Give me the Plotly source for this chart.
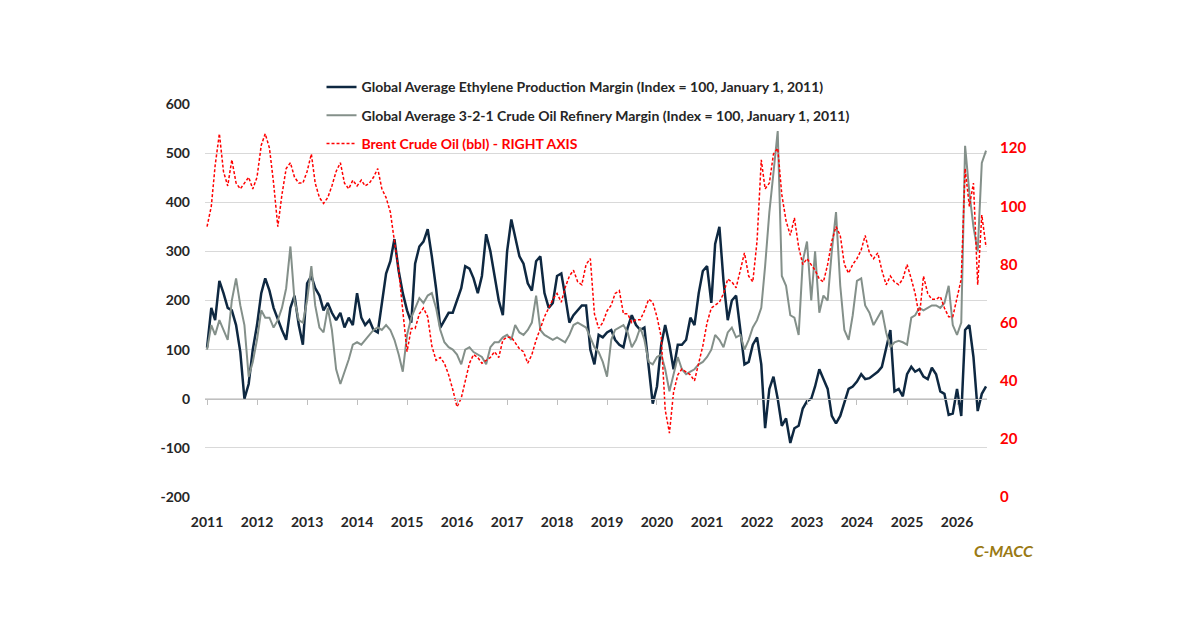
import pandas as pd
import plotly.graph_objects as go

# monthly points, Jan 2011 .. Aug 2026
dates = pd.date_range("2011-01-01", "2026-08-01", freq="MS")

ethylene = [
    104, 185, 160, 240, 215, 185, 180, 150, 95, 0, 30, 100,
    150, 215, 245, 220, 185, 160, 140, 120, 185, 210, 150, 110,
    235, 250, 225, 210, 180, 195, 175, 160, 175, 145, 165, 150,
    215, 165, 150, 160, 140, 135, 195, 255, 280, 325, 260, 215,
    180, 155, 275, 310, 320, 345, 290, 225, 145, 160, 175, 175,
    200, 225, 270, 265, 245, 215, 250, 335, 300, 250, 200, 170,
    300, 365, 330, 290, 275, 235, 220, 280, 290, 215, 185, 195,
    250, 255, 210, 155, 170, 180, 190, 190, 100, 70, 130, 125,
    135, 140, 120, 110, 105, 145, 170, 150, 140, 145, 60, -10,
    25, 110, 150, 110, 60, 110, 110, 120, 165, 150, 215, 260,
    270, 195, 315, 350, 240, 160, 200, 210, 140, 70, 75, 110,
    125, 70, -60, 20, 45, 0, -55, -40, -90, -60, -55, -20,
    -5, 0, 25, 60, 40, 20, -35, -50, -35, -10, 20, 25,
    35, 50, 40, 42, 48, 55, 65, 100, 140, 15, 20, 5,
    50, 65, 55, 60, 45, 40, 63, 50, 15, 10, -33, -30,
    20, -35, 140, 150, 85, -25, 10, 25,
]

refinery = [
    100, 150, 130, 160, 140, 120, 200, 245, 190, 150, 45, 75,
    120, 180, 165, 165, 145, 160, 185, 225, 310, 200, 160, 155,
    200, 270, 190, 145, 135, 185, 140, 60, 30, 55, 80, 110,
    115, 110, 120, 130, 140, 145, 140, 150, 140, 120, 90, 55,
    130, 165, 185, 205, 195, 210, 215, 185, 140, 115, 105, 100,
    90, 70, 100, 105, 95, 90, 85, 70, 105, 115, 115, 125,
    130, 120, 150, 135, 130, 140, 155, 210, 140, 130, 125, 120,
    125, 120, 115, 130, 150, 155, 150, 145, 125, 105, 95, 75,
    45, 120, 140, 145, 150, 135, 105, 120, 145, 120, 75, 70,
    85, 90, 60, 15, 50, 85, 60, 50, 55, 60, 70, 75,
    85, 100, 130, 120, 105, 135, 145, 125, 130, 100, 120, 145,
    160, 185, 270, 380, 460, 545, 250, 230, 170, 165, 130, 280,
    320, 200, 300, 175, 210, 200, 300, 380, 230, 140, 120, 170,
    240, 245, 190, 175, 150, 165, 180, 135, 105, 115, 118, 115,
    110, 165, 170, 185, 180, 185, 190, 190, 185, 195, 230, 150,
    130, 155, 515, 420, 350, 300, 480, 505,
]

brent = [
    93, 100, 114, 125, 112, 107, 116, 108, 106, 108, 110, 106,
    110, 121, 125, 120, 108, 93, 104, 113, 115, 110, 108, 108,
    112, 118, 108, 103, 101, 103, 107, 112, 115, 108, 106, 109,
    107, 109, 107, 108, 110, 113, 106, 103, 98, 88, 78, 64,
    50, 58, 58, 63, 65, 62, 52, 47, 48, 46, 42, 37,
    31, 34, 40, 46, 49, 48, 46, 47, 48, 50, 48, 54,
    55, 55, 53, 51, 50, 46, 49, 54, 58, 62, 65, 68,
    70, 67, 72, 76, 78, 74, 73, 80, 82, 63, 58, 60,
    64, 66, 70, 71, 63, 63, 60, 61, 61, 64, 68, 67,
    62, 55, 30, 22, 36, 42, 44, 43, 42, 40, 46, 52,
    60, 65, 66, 67, 70, 75, 74, 72, 78, 84, 76, 74,
    88, 116, 106, 108, 118, 120, 104, 95, 90, 96, 86, 80,
    82, 80, 78, 75, 74, 80, 88, 93, 90, 80, 77, 80,
    82, 85, 90, 84, 82, 84, 78, 73, 76, 74, 73, 75,
    80, 75, 70, 62, 76, 70, 68, 68, 69, 65, 62, 62,
    68, 75, 113, 100, 108, 73, 97, 86,
]

right_ticks = [0, 20, 40, 60, 80, 100, 120]
left_ticks = [-200, -100, 0, 100, 200, 300, 400, 500, 600]
left_labels = ["-200", "-100", "0", "100", "200", "300", "400", "500", "600"]

FONT = "Lato"

fig = go.Figure()

fig.add_trace(go.Scatter(
    x=dates, y=ethylene, mode="lines", legendgroup="a",
    name="Global Average Ethylene Production Margin (Index = 100, January 1, 2011)",
    line=dict(color="#0e2841", width=2.5),
))
fig.add_trace(go.Scatter(
    x=dates, y=refinery, mode="lines", legendgroup="b",
    name="Global Average 3-2-1 Crude Oil Refinery Margin (Index = 100, January 1, 2011)",
    line=dict(color="#84908a", width=2),
))
fig.add_trace(go.Scatter(
    x=dates, y=brent, mode="lines", yaxis="y2", legendgroup="c",
    name="<span style='color:#ff0000'>Brent Crude Oil (bbl) - RIGHT AXIS</span>",
    line=dict(color="#ff0000", width=1.5, dash="3px,2px"),
))
# empty trace so the zero-line axis with tick marks gets drawn
fig.add_trace(go.Scatter(x=[], y=[], xaxis="x2", showlegend=False, hoverinfo="skip"))

xrange = ["2010-12-17", "2026-08-08"]

fig.update_layout(
    width=1200, height=627,
    paper_bgcolor="white", plot_bgcolor="white",
    margin=dict(l=197, r=221, t=96, b=138, autoexpand=False),
    font=dict(family=FONT, size=14, color="#262626"),
    showlegend=True,
    legend=dict(
        x=0.149, y=1.083, xanchor="left", yanchor="top",
        bgcolor="rgba(0,0,0,0)",
        font=dict(family=FONT, size=14, color="#262626", weight="bold"),
        tracegroupgap=7, traceorder="grouped", itemwidth=30,
    ),
    xaxis=dict(
        type="date", range=xrange, dtick="M12", tick0="2011-01-01",
        tickformat="%Y", showgrid=False, showline=False, ticks="",
        zeroline=False, ticklabelstandoff=15,
        tickfont=dict(family=FONT, size=14, color="#262626", weight="bold"),
    ),
    xaxis2=dict(
        type="date", range=xrange, dtick="M12", tick0="2011-01-01",
        overlaying="x", anchor="free", position=0.25, side="bottom",
        showgrid=False, showline=True, linecolor="#bfbfbf", linewidth=1,
        ticks="outside", ticklen=5, tickcolor="#bfbfbf",
        showticklabels=False, zeroline=False,
    ),
    yaxis=dict(
        range=[-200, 600], tickvals=left_ticks, ticktext=left_labels,
        showgrid=True, gridcolor="#d9d9d9", gridwidth=1,
        zeroline=False, showline=False, ticks="", ticklabelstandoff=14,
        tickfont=dict(family=FONT, size=14, color="#262626", weight="bold"),
    ),
    yaxis2=dict(
        range=[0, 135.2], tickvals=right_ticks, overlaying="y", side="right",
        showgrid=False, zeroline=False, showline=False, ticks="",
        ticklabelstandoff=12,
        tickfont=dict(family=FONT, size=15, color="#ff0000", weight="bold"),
    ),
    annotations=[dict(
        text="<b><i>C-MACC</i></b>", xref="paper", yref="paper",
        x=1.063, y=-0.137, xanchor="right", yanchor="middle", showarrow=False,
        font=dict(family=FONT, size=16, color="#9a7a14"),
    )],
)

fig.write_html("out.html")
